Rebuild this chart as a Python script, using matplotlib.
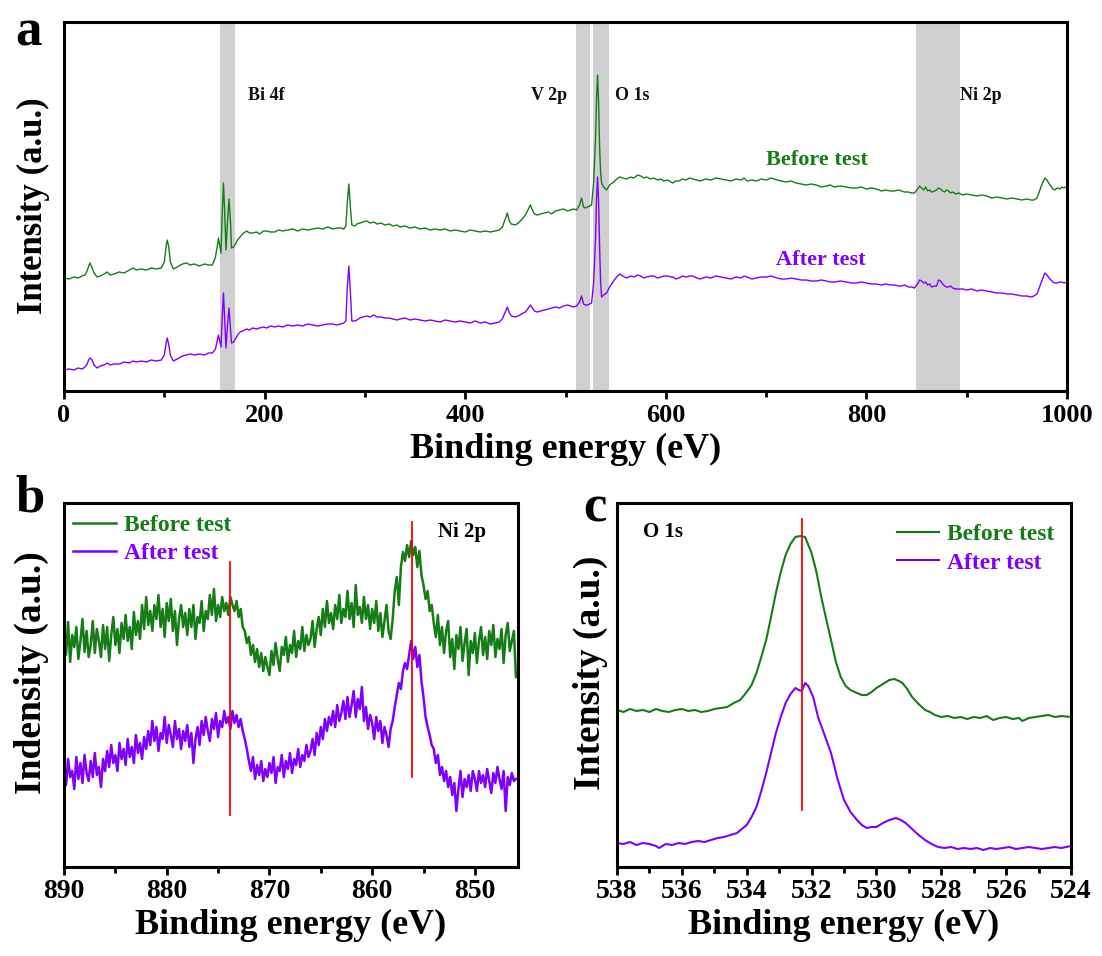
import numpy as np
import matplotlib
matplotlib.use("Agg")
import matplotlib.pyplot as plt
from matplotlib.ticker import MultipleLocator

plt.rcParams['font.family'] = ['Liberation Serif', 'DejaVu Serif']
plt.rcParams['font.weight'] = 'bold'
plt.rcParams['axes.labelweight'] = 'bold'

GREEN = '#157d15'
PURPLE = '#8000ff'
BAND = '#d0d0d0'

# ---------------- Panel a: survey spectra ----------------
survey_energy = [
    0, 5, 10, 14, 18, 21, 23, 25, 26, 28,
    30, 33, 36, 40, 43, 46, 50, 55, 60, 65,
    69, 72, 77, 82, 87, 92, 97, 100, 102, 103,
    104.5, 106, 109, 113, 118, 122, 126, 130, 135, 140,
    144, 148, 151, 153, 154, 155.5, 156.5, 158, 159, 160,
    161.5, 163, 164.5, 166, 167, 169, 171, 173, 175.5, 178,
    182, 185, 188, 192, 195, 199, 202, 206, 210, 214,
    218, 223, 228, 233, 238, 243, 248, 253, 258, 263,
    268, 272, 276, 279, 281, 282.5, 284, 285.5, 287, 290,
    292, 295, 298, 302, 305, 309, 312, 316, 320, 324,
    328, 332, 335, 340, 345, 350, 355, 360, 365, 370,
    375, 380, 385, 390, 395, 400, 405, 410, 415, 420,
    425, 430, 434, 437, 440, 442, 444, 446, 450, 453,
    456, 460, 463, 465, 467, 469, 472, 475, 479, 483,
    486, 490, 494, 498, 502, 505, 508, 511, 514, 516,
    518, 520, 522, 524, 526, 528, 530, 531, 532, 533,
    534, 535, 536, 538, 541, 544, 548, 551, 554, 557,
    561, 565, 568, 572, 575, 578, 581, 585, 588, 592,
    595, 598, 602, 605, 607, 610, 613, 617, 620, 624,
    627, 631, 634, 640, 645, 650, 655, 660, 665, 670,
    675, 678, 681, 686, 690, 695, 700, 705, 711, 715,
    720, 725, 730, 735, 740, 745, 750, 755, 760, 764,
    768, 774, 780, 785, 790, 795, 800, 805, 810, 815,
    819, 824, 828, 832, 835, 838, 842, 845, 848, 851,
    853, 855, 857, 859, 861, 863, 865, 868, 870, 872,
    874, 876, 878, 880, 882, 884, 886, 889, 892, 896,
    900, 905, 910, 915, 920, 925, 930, 935, 940, 945,
    950, 955, 960, 964, 967, 970, 972, 974, 976, 978,
    980, 983, 986, 988, 990, 993, 995, 997, 1000]
survey_before = [
    119, 118, 120, 119, 121, 122, 126, 132, 134, 129,
    124, 120, 121, 123, 125, 122, 123, 125, 124, 127,
    129, 127, 128, 127, 129, 128, 129, 135, 152, 157,
    150, 135, 128, 130, 133, 134, 132, 133, 131, 133,
    132, 132, 140, 152, 159, 150, 144, 190, 214, 190,
    147, 175, 198, 175, 149, 150, 153, 157, 160, 163,
    166, 164, 164, 165, 163, 166, 166, 165, 165, 167,
    166, 167, 168, 166, 168, 167, 168, 169, 168, 170,
    168, 169, 169, 168, 171, 195, 213, 190, 172, 171,
    173, 174, 175, 176, 174, 175, 173, 174, 172, 173,
    171, 172, 170, 171, 169, 170, 168, 169, 167, 168,
    167, 168, 166, 167, 166, 165, 167, 166, 165, 166,
    165, 166, 167, 170, 178, 184, 176, 173, 172, 174,
    177, 182, 188, 192, 187, 183, 182, 183, 184, 185,
    183, 186, 187, 188, 186, 187, 188, 187, 192, 199,
    190, 189, 190, 191, 192, 214, 260, 300, 322, 295,
    250, 225, 214, 210, 207, 212, 215, 218, 220, 219,
    218, 220, 219, 222, 221, 219, 220, 218, 219, 217,
    218, 216, 217, 215, 214, 216, 216, 218, 217, 219,
    218, 217, 216, 218, 217, 219, 218, 217, 216, 218,
    217, 219, 216, 217, 216, 218, 217, 219, 217, 216,
    215, 216, 214, 213, 212, 213, 212, 210, 211, 212,
    210, 211, 210, 209, 209, 210, 208, 209, 208, 206,
    207, 206, 206, 207, 206, 205, 205, 204, 204, 208,
    211, 209, 207, 210, 206, 207, 205, 206, 207, 209,
    208, 206, 205, 207, 206, 204, 205, 203, 204, 202,
    203, 202, 201, 202, 201, 199, 200, 199, 198, 199,
    198, 197, 198, 197, 197, 199, 204, 210, 215, 219,
    217, 212, 208, 207, 209, 208, 210, 209, 211]
survey_after = [
    27, 28, 27, 29, 28, 30, 33, 38, 39, 37,
    32, 29, 31, 32, 34, 32, 33, 33, 35, 34,
    36, 35, 36, 35, 37, 36, 37, 42, 55, 59,
    52, 42, 36, 38, 41, 42, 43, 42, 43, 42,
    44, 44, 48, 57, 62, 55, 50, 85, 104, 82,
    49, 72, 89, 68, 54, 55, 58, 62, 65, 66,
    68, 67, 69, 68, 69, 70, 69, 71, 70, 71,
    70, 72, 71, 72, 71, 73, 72, 71, 72, 73,
    73, 72, 73, 74, 76, 110, 131, 105, 76, 76,
    77, 79, 80, 81, 80, 82, 80, 80, 79, 79,
    78, 77, 78, 79, 77, 78, 77, 76, 77, 76,
    75, 77, 76, 75, 76, 75, 74, 76, 74, 75,
    73, 74, 75, 78, 85, 90, 84, 81, 80, 81,
    83, 85, 89, 92, 89, 86, 85, 86, 87, 88,
    89, 90, 89, 91, 92, 91, 90, 91, 95, 101,
    93, 92, 92, 93, 94, 114, 160, 200, 220, 195,
    150, 115, 100, 102, 104, 110, 116, 120, 123, 121,
    119, 121, 120, 122, 121, 119, 120, 121, 121, 119,
    120, 121, 121, 120, 120, 118, 119, 121, 120, 121,
    121, 119, 118, 120, 119, 121, 120, 119, 118, 120,
    119, 121, 120, 118, 119, 120, 120, 121, 119, 118,
    118, 119, 118, 117, 117, 116, 116, 117, 116, 115,
    115, 116, 115, 114, 114, 115, 114, 113, 113, 112,
    113, 112, 112, 111, 111, 112, 110, 110, 109, 113,
    117, 116, 114, 115, 112, 113, 110, 111, 111, 117,
    116, 113, 111, 110, 110, 111, 109, 108, 108, 108,
    107, 108, 106, 107, 106, 105, 104, 104, 103, 103,
    102, 101, 101, 100, 101, 103, 108, 114, 119, 124,
    122, 118, 115, 114, 114, 115, 115, 114, 115]
band_ranges = [(155.5, 170.5), (510, 524), (527, 543), (849, 893)]
band_labels = ['Bi 4f', 'V 2p', 'O 1s', 'Ni 2p']

# ---------------- Panel b: Ni 2p (0.2 eV steps from 890 eV) ----------------
ni_start, ni_step = 890.0, 0.2
ni_before = [
    230, 212, 245, 205, 232, 220, 240, 208, 226, 248, 215, 236, 210, 222, 246, 214, 238, 226, 210, 242,
    218, 240, 206, 232, 250, 222, 238, 214, 244, 228, 252, 226, 240, 218, 255, 232, 246, 228, 262, 238,
    270, 242, 256, 236, 262, 248, 272, 240, 258, 230, 264, 246, 268, 236, 256, 222, 248, 262, 240, 254,
    232, 258, 240, 262, 228, 250, 244, 266, 236, 256, 248, 272, 252, 278, 246, 262, 250, 270, 256, 264,
    252, 270, 262, 256, 266, 250, 258, 240, 236, 224, 230, 212, 222, 205, 218, 200, 214, 196, 210, 200,
    192, 216, 202, 224, 208, 196, 220, 212, 230, 205, 222, 214, 236, 210, 226, 218, 240, 216, 232, 222,
    228, 246, 220, 238, 250, 232, 258, 240, 266, 244, 254, 238, 262, 248, 272, 244, 258, 250, 276, 248,
    264, 240, 282, 252, 260, 244, 270, 248, 262, 238, 258, 244, 266, 236, 254, 230, 246, 262, 236, 228,
    248, 276, 290, 262, 300, 315, 306, 322, 310, 326, 312, 320, 300, 316, 292, 282, 268, 276, 256, 262,
    244, 230, 252, 222, 240, 214, 236, 246, 210, 228, 198, 232, 218, 240, 206, 224, 238, 192, 226, 214,
    234, 204, 226, 240, 212, 230, 208, 236, 222, 242, 210, 228, 218, 238, 204, 232, 244, 216, 226, 236,
    190]
ni_after = [
    100, 82, 108, 90, 96, 78, 110, 88, 104, 84, 112, 94, 86, 106, 90, 114, 92, 100, 80, 108,
    96, 116, 100, 122, 104, 112, 96, 124, 108, 118, 102, 128, 110, 120, 104, 132, 114, 124, 108, 130,
    118, 136, 122, 146, 126, 140, 116, 134, 128, 150, 124, 142, 132, 120, 146, 128, 138, 118, 136, 126,
    142, 120, 134, 104, 128, 140, 122, 146, 132, 150, 136, 126, 148, 138, 154, 130, 146, 140, 156, 144,
    150, 138, 156, 144, 152, 140, 148, 136, 128, 118, 106, 96, 110, 88, 102, 92, 106, 86, 98, 90,
    104, 94, 110, 84, 100, 96, 112, 90, 106, 98, 114, 94, 108, 102, 118, 100, 112, 106, 122, 110,
    116, 128, 112, 134, 122, 140, 128, 148, 136, 150, 142, 156, 140, 162, 146, 154, 166, 148, 170, 150,
    162, 176, 150, 168, 158, 180, 146, 160, 138, 152, 144, 128, 150, 136, 146, 124, 140, 132, 120, 138,
    146, 160, 172, 184, 178, 196, 204, 198, 212, 226, 208, 220, 200, 212, 186, 170, 150, 140, 132, 122,
    118, 104, 112, 92, 100, 86, 96, 80, 90, 72, 84, 56, 78, 96, 70, 88, 80, 92, 76, 96,
    88, 76, 96, 84, 92, 80, 98, 86, 74, 94, 84, 100, 88, 78, 96, 56, 90, 82, 94, 86,
    88]
ni_marks = [873.8, 856.1]
ni_mark_spans = [(52, 305), (90, 345)]

# ---------------- Panel c: O 1s ----------------
o_energy_before = [
    538.0, 537.8, 537.6, 537.4, 537.2, 537.0, 536.8, 536.6, 536.4, 536.2,
    536.0, 535.8, 535.6, 535.4, 535.2, 535.0, 534.8, 534.6, 534.4, 534.2,
    534.0, 533.85, 533.7, 533.55, 533.4, 533.25, 533.1, 532.95, 532.8, 532.65,
    532.5, 532.35, 532.2, 532.1, 532.0, 531.85, 531.7, 531.55, 531.4, 531.25,
    531.1, 530.95, 530.8, 530.6, 530.45, 530.3, 530.15, 530.0, 529.8, 529.6,
    529.45, 529.3, 529.2, 529.05, 528.9, 528.7, 528.5, 528.35, 528.2, 528.0,
    527.8, 527.6, 527.4, 527.2, 527.0, 526.8, 526.6, 526.4, 526.2, 526.0,
    525.8, 525.6, 525.5, 525.3, 525.1, 524.9, 524.7, 524.5, 524.3, 524.0]
o_before = [
    157, 155, 158, 156, 157, 155, 158, 156, 155, 157,
    158, 156, 157, 155, 156, 158, 159, 160, 164, 167,
    175, 182, 194, 210, 227, 250, 274, 295, 312, 323,
    330, 331, 330, 322, 314, 295, 270, 248, 227, 205,
    190, 181, 177, 174, 172, 172, 175, 179, 183, 187,
    188, 186, 184, 178, 170, 163, 157, 155, 152, 150,
    151, 149, 150, 148, 150, 149, 151, 147, 149, 150,
    148, 149, 146, 149, 150, 151, 152, 150, 151, 150]
o_energy_after = [
    538.0, 537.8, 537.6, 537.4, 537.2, 537.0, 536.8, 536.7, 536.5, 536.3,
    536.1, 535.9, 535.7, 535.5, 535.3, 535.1, 534.9, 534.7, 534.5, 534.3,
    534.15, 534.0, 533.85, 533.7, 533.55, 533.4, 533.25, 533.1, 532.95, 532.8,
    532.65, 532.5, 532.4, 532.3, 532.2, 532.1, 531.95, 531.8, 531.6, 531.4,
    531.2, 531.0, 530.8, 530.6, 530.45, 530.3, 530.15, 530.0, 529.8, 529.6,
    529.4, 529.25, 529.1, 528.9, 528.7, 528.5, 528.3, 528.1, 527.9, 527.7,
    527.5, 527.3, 527.1, 526.9, 526.7, 526.5, 526.3, 526.1, 525.9, 525.7,
    525.5, 525.3, 525.1, 524.9, 524.7, 524.5, 524.3, 524.0]
o_after = [
    24, 23, 25, 22, 24, 23, 21, 19, 23, 22,
    24, 23, 25, 26, 25, 27, 29, 30, 32, 34,
    38, 42, 50, 60, 76, 94, 114, 134, 150, 164,
    173, 179, 177, 176, 184, 181, 170, 150, 132, 114,
    88, 67, 55, 47, 42, 39, 40, 40, 44, 47,
    49, 47, 44, 38, 32, 27, 23, 20, 19, 20,
    18, 19, 18, 19, 17, 19, 18, 19, 20, 18,
    19, 20, 19, 18, 19, 20, 19, 21]
o_mark = 532.28
o_mark_span = (57, 348)

W, H = 1102, 956
fig = plt.figure(figsize=(W / 100, H / 100), dpi=100)


def frac_axes(x0, y0, x1, y1):
    return fig.add_axes([x0 / W, 1 - y1 / H, (x1 - x0) / W, (y1 - y0) / H])


def style(ax, tsize):
    for s in ax.spines.values():
        s.set_linewidth(2.2)
    ax.tick_params(axis='x', which='major', direction='out', length=6, width=2, labelsize=tsize, pad=3)
    ax.tick_params(axis='x', which='minor', direction='out', length=4, width=2)
    ax.set_yticks([])


ax_a = frac_axes(64, 22, 1067, 391)
ax_b = frac_axes(64, 503, 518, 867)
ax_c = frac_axes(617, 503, 1071, 867)

# Panel a
for (lo, hi) in band_ranges:
    ax_a.axvspan(lo, hi, color=BAND, lw=0, zorder=0)
ax_a.plot(survey_energy, survey_before, color=GREEN, lw=1.0)
ax_a.plot(survey_energy, survey_after, color=PURPLE, lw=1.0)
ax_a.set_xlim(0, 1000)
ax_a.set_ylim(6, 375)
ax_a.xaxis.set_major_locator(MultipleLocator(200))
ax_a.xaxis.set_minor_locator(MultipleLocator(100))
style(ax_a, 19)
ax_a.set_xlabel('Binding energy (eV)', fontsize=26, labelpad=5)
label_pos = [(183, 'left'), (502, 'right'), (549, 'left'), (893, 'left')]
for (xpos, ha), txt in zip(label_pos, band_labels):
    ax_a.text(xpos, 302, txt, fontsize=13, ha=ha, va='center', color='#111111')
ax_a.text(751, 237, 'Before test', fontsize=16, color=GREEN, ha='center', va='center')
ax_a.text(755, 137, 'After test', fontsize=16, color=PURPLE, ha='center', va='center')

# Panel b
ni_energy = [ni_start - ni_step * i for i in range(len(ni_before))]
ax_b.plot(ni_energy, ni_before, color=GREEN, lw=1.8, label='Before test')
ax_b.plot(ni_energy, ni_after, color=PURPLE, lw=1.8, label='After test')
for xm, (y0, y1) in zip(ni_marks, ni_mark_spans):
    ax_b.plot([xm, xm], [y0, y1], color='red', lw=1.3)
ax_b.set_xlim(890, 845.8)
ax_b.set_ylim(0, 364)
ax_b.xaxis.set_major_locator(MultipleLocator(10))
ax_b.xaxis.set_minor_locator(MultipleLocator(5))
style(ax_b, 20)
ax_b.set_xlabel('Binding energy (eV)', fontsize=26, labelpad=3)
ax_b.text(0.93, 0.92, 'Ni 2p', transform=ax_b.transAxes, fontsize=15, ha='right', va='center')
leg = ax_b.legend(loc='upper left', bbox_to_anchor=(0.0, 0.995), frameon=False, fontsize=17,
                  handlelength=1.8, handletextpad=0.35, borderaxespad=0.0, labelspacing=0.3)
for t, c in zip(leg.get_texts(), [GREEN, PURPLE]):
    t.set_color(c)

# Panel c
ax_c.plot(o_energy_before, o_before, color=GREEN, lw=1.5, label='Before test')
ax_c.plot(o_energy_after, o_after, color=PURPLE, lw=1.5, label='After test')
ax_c.plot([o_mark, o_mark], list(o_mark_span), color='red', lw=1.3)
ax_c.set_xlim(538, 524)
ax_c.set_ylim(0, 364)
ax_c.xaxis.set_major_locator(MultipleLocator(2))
ax_c.xaxis.set_minor_locator(MultipleLocator(1))
style(ax_c, 20)
ax_c.set_xlabel('Binding energy (eV)', fontsize=26, labelpad=3)
ax_c.text(537.2, 335, 'O 1s', fontsize=15, ha='left', va='center')
leg = ax_c.legend(loc='upper right', bbox_to_anchor=(0.985, 0.97), frameon=False, fontsize=17,
                  handlelength=1.8, handletextpad=0.35, borderaxespad=0.0, labelspacing=0.3)
for t, c in zip(leg.get_texts(), [GREEN, PURPLE]):
    t.set_color(c)

# y labels and panel letters
fig.text(33 / W, 1 - 206 / H, 'Intensity (a.u.)', rotation=90, fontsize=25, ha='center', va='center')
fig.text(31 / W, 1 - 673 / H, 'Indensity (a.u.)', rotation=90, fontsize=27, ha='center', va='center')
fig.text(590 / W, 1 - 673 / H, 'Intensity (a.u.)', rotation=90, fontsize=27, ha='center', va='center')
fig.text(15 / W, 1 - 45 / H, 'a', fontsize=38, ha='left', va='baseline')
fig.text(15 / W, 1 - 512 / H, 'b', fontsize=38, ha='left', va='baseline')
fig.text(583 / W, 1 - 522 / H, 'c', fontsize=38, ha='left', va='baseline')

fig.savefig('out.png', dpi=100)
